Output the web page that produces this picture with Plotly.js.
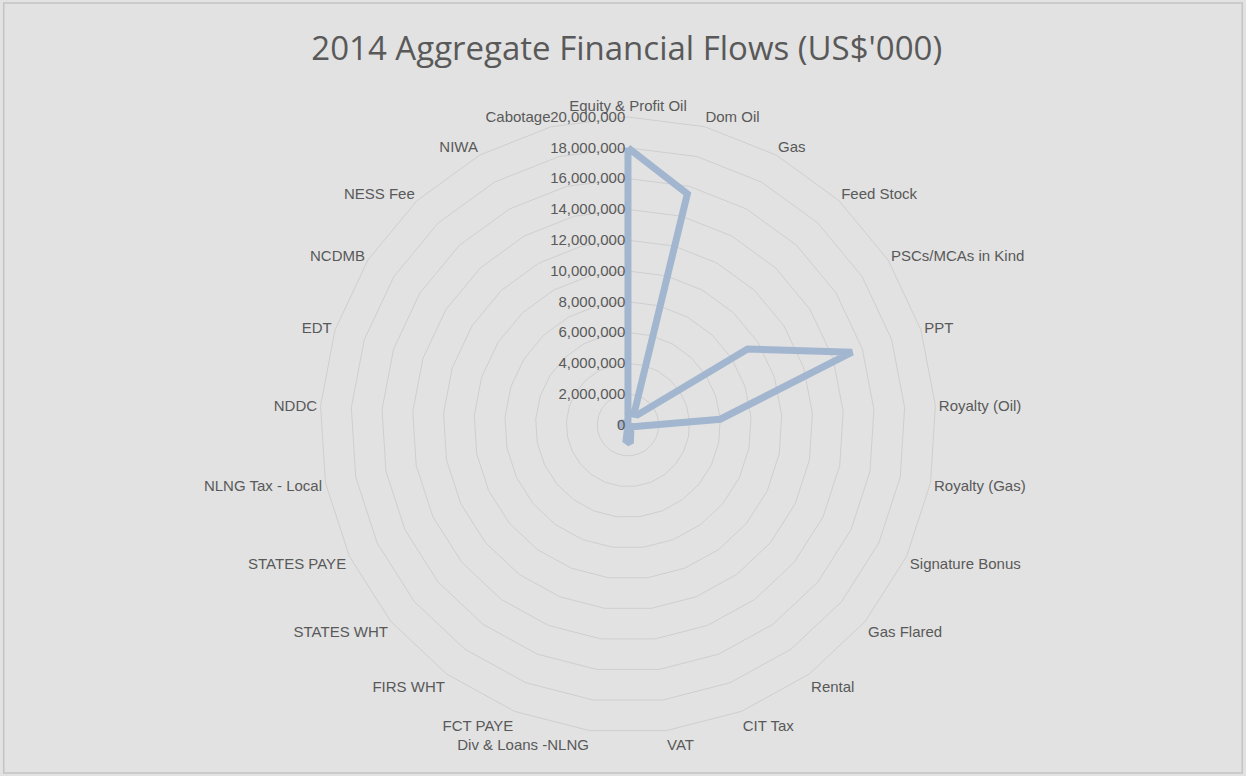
<!DOCTYPE html>
<html>
<head>
<meta charset="utf-8">
<script src="https://cdn.plot.ly/plotly-3.0.1.min.js"></script>
<style>
html,body{margin:0;padding:0;background:#e2e2e2;}
#chart{width:1246px;height:776px;}
</style>
</head>
<body>
<div id="chart"></div>
<script>
const categories = ["Equity & Profit Oil","Dom Oil","Gas","Feed Stock","PSCs/MCAs in Kind","PPT","Royalty (Oil)","Royalty (Gas)","Signature Bonus","Gas Flared","Rental","CIT Tax","VAT","Div & Loans -NLNG","FCT PAYE","FIRS WHT","STATES WHT","STATES PAYE","NLNG Tax - Local","NDDC","EDT","NCDMB","NESS Fee","NIWA","Cabotage"];
const flows = [18000000,15500000,800000,900000,9200000,15300000,6000000,500000,200000,100000,50000,500000,1200000,1000000,20000,300000,50000,50000,200000,600000,400000,200000,50000,10000,10000];
const radialTicks = [0,2000000,4000000,6000000,8000000,10000000,12000000,14000000,16000000,18000000,20000000];

const theta = categories.concat([categories[0]]);
const r = flows.concat([flows[0]]);

const textColor = '#595959';
const gridColor = '#cfcfcf';

const data = [{
  type: 'scatterpolar',
  mode: 'lines',
  r: r,
  theta: theta,
  line: {color: '#a2b6cf', width: 7},
  hoverinfo: 'r+theta'
}];

const layout = {
  width: 1246, height: 776,
  margin: {l: 0, r: 0, t: 0, b: 0},
  paper_bgcolor: '#e2e2e2',
  showlegend: false,
  font: {family: 'Liberation Sans Narrow, Liberation Sans, sans-serif', color: textColor, size: 15},
  title: {
    text: "2014 Aggregate Financial Flows (US$'000)",
    x: 0.503, xanchor: 'center', y: 0.938, yanchor: 'middle',
    font: {family: 'Open Sans, sans-serif', size: 33, color: textColor}
  },
  polar: {
    domain: {x: [0.2568, 0.7512], y: [0.0554, 0.8492]},
    bgcolor: 'rgba(0,0,0,0)',
    gridshape: 'linear',
    angularaxis: {
      direction: 'clockwise',
      rotation: 90,
      type: 'category',
      categoryorder: 'array',
      categoryarray: categories,
      showgrid: false,
      showline: true,
      linecolor: gridColor,
      linewidth: 1,
      ticks: '',
      tickfont: {size: 15, color: textColor}
    },
    radialaxis: {
      range: [0, 20000000],
      tickvals: radialTicks,
      tickformat: ',d',
      angle: 90,
      side: 'counterclockwise',
      tickangle: 90,
      showline: false,
      ticks: '',
      gridcolor: gridColor,
      gridwidth: 1,
      tickfont: {size: 15, color: textColor}
    }
  },
  shapes: [{
    type: 'rect', xref: 'paper', yref: 'paper', x0: 0.003, y0: 0.004, x1: 0.997, y1: 0.996,
    line: {color: '#c4c4c4', width: 1.5}, fillcolor: 'rgba(0,0,0,0)'
  }]
};

Plotly.newPlot('chart', data, layout, {displayModeBar: false, staticPlot: true});
</script>
</body>
</html>
